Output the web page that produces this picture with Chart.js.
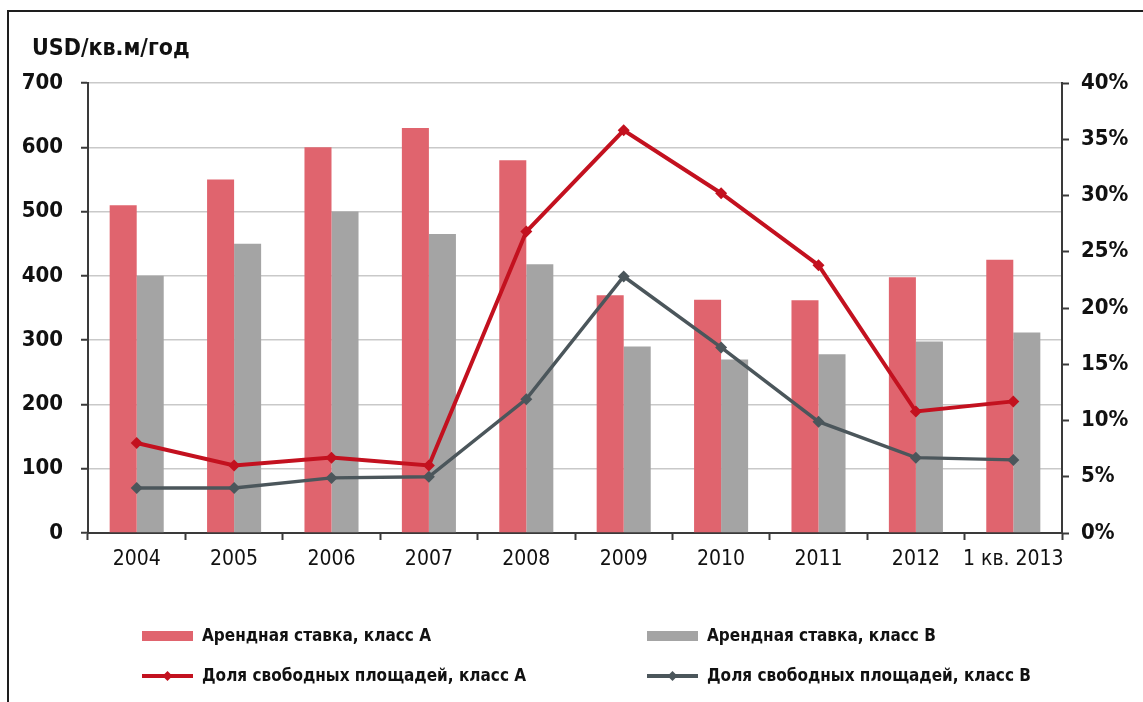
<!DOCTYPE html>
<html>
<head>
<meta charset="utf-8">
<script src="https://cdn.jsdelivr.net/npm/chart.js@4/dist/chart.umd.min.js"></script>
<style>
  html, body { margin: 0; padding: 0; background: #fff; }
  #wrap { position: relative; width: 1143px; height: 702px; }
  canvas { display: block; }
</style>
</head>
<body>
<div id="wrap"><canvas id="c" width="1143" height="702"></canvas></div>
<script>
// Categories (years) and series
const categories = ['2004', '2005', '2006', '2007', '2008', '2009', '2010', '2011', '2012', '1 кв. 2013'];
const rentA = [510, 550, 600, 630, 580, 370, 363, 362, 398, 425];
const rentB = [400, 450, 500, 465, 418, 290, 270, 278, 298, 312];
const vacancyA = [8.0, 6.0, 6.7, 6.0, 26.8, 35.8, 30.2, 23.8, 10.8, 11.7];
const vacancyB = [4.0, 4.0, 4.9, 5.0, 11.9, 22.8, 16.5, 9.9, 6.7, 6.5];
const leftTicks = [0, 100, 200, 300, 400, 500, 600, 700];
const rightTicks = [0, 5, 10, 15, 20, 25, 30, 35, 40];

const unitTitle = 'USD/кв.м/год';
const seriesNames = [
  'Арендная ставка, класс А',
  'Арендная ставка, класс В',
  'Доля свободных площадей, класс А',
  'Доля свободных площадей, класс В'
];

const NUM_FONT = "'DejaVu Sans Condensed', 'DejaVu Sans', sans-serif";
const TXT_FONT = "'Liberation Sans Narrow', 'DejaVu Sans Condensed', sans-serif";
const AXIS_DARK = '#3a3a3a';
const GRID = '#c9c9c9';

const colRentA = '#e0646e';
const colRentB = '#a4a4a4';
const colVacA = '#c3111f';
const colVacB = '#4b565b';

// Frame (top + left edges), unit label and two-column legend
const decorations = {
  id: 'decorations',
  beforeDraw(chart) {
    const ctx = chart.ctx;
    ctx.save();
    ctx.fillStyle = '#ffffff';
    ctx.fillRect(0, 0, chart.width, chart.height);
    ctx.strokeStyle = '#1e1e1e';
    ctx.lineWidth = 2;
    ctx.beginPath();
    ctx.moveTo(8, chart.height);
    ctx.lineTo(8, 11);
    ctx.lineTo(chart.width, 11);
    ctx.stroke();
    ctx.restore();
  },
  afterDraw(chart) {
    const ctx = chart.ctx;
    ctx.save();
    ctx.fillStyle = '#111';
    ctx.font = "bold 23px " + NUM_FONT;
    ctx.textBaseline = 'alphabetic';
    ctx.textAlign = 'left';
    ctx.fillText(unitTitle, 32, 55);

    // legend
    const cols = [{ sx: 142, tx: 202 }, { sx: 647, tx: 707 }];
    const rows = [636, 676];
    const swW = 51;
    chart.data.datasets.forEach((ds, i) => {
      const c = cols[i % 2];
      const y = rows[Math.floor(i / 2)];
      if (ds.type === 'line') {
        ctx.strokeStyle = ds.borderColor;
        ctx.lineWidth = 4;
        ctx.beginPath();
        ctx.moveTo(c.sx, y);
        ctx.lineTo(c.sx + swW, y);
        ctx.stroke();
        ctx.fillStyle = ds.borderColor;
        const cx = c.sx + swW / 2, r = 5;
        ctx.beginPath();
        ctx.moveTo(cx, y - r);
        ctx.lineTo(cx + r, y);
        ctx.lineTo(cx, y + r);
        ctx.lineTo(cx - r, y);
        ctx.closePath();
        ctx.fill();
      } else {
        ctx.fillStyle = ds.backgroundColor;
        ctx.fillRect(c.sx, y - 5, swW, 10);
      }
      ctx.fillStyle = '#111';
      ctx.font = "bold 17px " + TXT_FONT;
      ctx.textBaseline = 'middle';
      ctx.fillText(ds.label, c.tx, y + 1);
    });
    ctx.restore();
  }
};

new Chart(document.getElementById('c'), {
  data: {
    labels: categories,
    datasets: [
      { type: 'bar', label: seriesNames[0], data: rentA, backgroundColor: colRentA, yAxisID: 'y', order: 2,
        categoryPercentage: 0.555, barPercentage: 1.0 },
      { type: 'bar', label: seriesNames[1], data: rentB, backgroundColor: colRentB, yAxisID: 'y', order: 2,
        categoryPercentage: 0.555, barPercentage: 1.0 },
      { type: 'line', label: seriesNames[2], data: vacancyA, borderColor: colVacA, backgroundColor: colVacA,
        borderWidth: 4, pointStyle: 'rectRot', pointRadius: 6, pointBorderWidth: 0, yAxisID: 'y1', order: 0,
        tension: 0 },
      { type: 'line', label: seriesNames[3], data: vacancyB, borderColor: colVacB, backgroundColor: colVacB,
        borderWidth: 3.5, pointStyle: 'rectRot', pointRadius: 6, pointBorderWidth: 0, yAxisID: 'y1', order: 1,
        tension: 0 }
    ]
  },
  options: {
    responsive: false,
    animation: false,
    devicePixelRatio: 1,
    layout: { padding: { left: 8, right: 0, top: 83, bottom: 129 } },
    plugins: { legend: { display: false }, tooltip: { enabled: false }, title: { display: false } },
    scales: {
      x: {
        offset: true,
        grid: { offset: true, drawOnChartArea: false, drawTicks: true, tickLength: 7, tickColor: AXIS_DARK, tickWidth: 2 },
        border: { color: AXIS_DARK, width: 2 },
        ticks: { color: '#111', font: { family: NUM_FONT, size: 21 }, padding: 7, maxRotation: 0, autoSkip: false },
        afterFit(s) { s.height = 40; }
      },
      y: {
        position: 'left',
        min: 0, max: 700,
        afterBuildTicks(s) { s.ticks = leftTicks.map(v => ({ value: v })); },
        grid: { color: GRID, lineWidth: 1.5, tickLength: 7, tickColor: AXIS_DARK, tickWidth: 2 },
        border: { color: AXIS_DARK, width: 2 },
        ticks: { color: '#111', font: { family: NUM_FONT, size: 22, weight: 'bold' }, padding: 18 },
        afterFit(s) { s.width = 80; }
      },
      y1: {
        position: 'right',
        min: 0, max: 40,
        afterBuildTicks(s) { s.ticks = rightTicks.map(v => ({ value: v })); },
        grid: { drawOnChartArea: false, tickLength: 7, tickColor: AXIS_DARK, tickWidth: 2 },
        border: { color: AXIS_DARK, width: 2 },
        ticks: { color: '#111', font: { family: NUM_FONT, size: 22, weight: 'bold' }, padding: 12,
          callback: v => v + '%' },
        afterFit(s) { s.width = 81; }
      }
    }
  },
  plugins: [decorations]
});
</script>
</body>
</html>
